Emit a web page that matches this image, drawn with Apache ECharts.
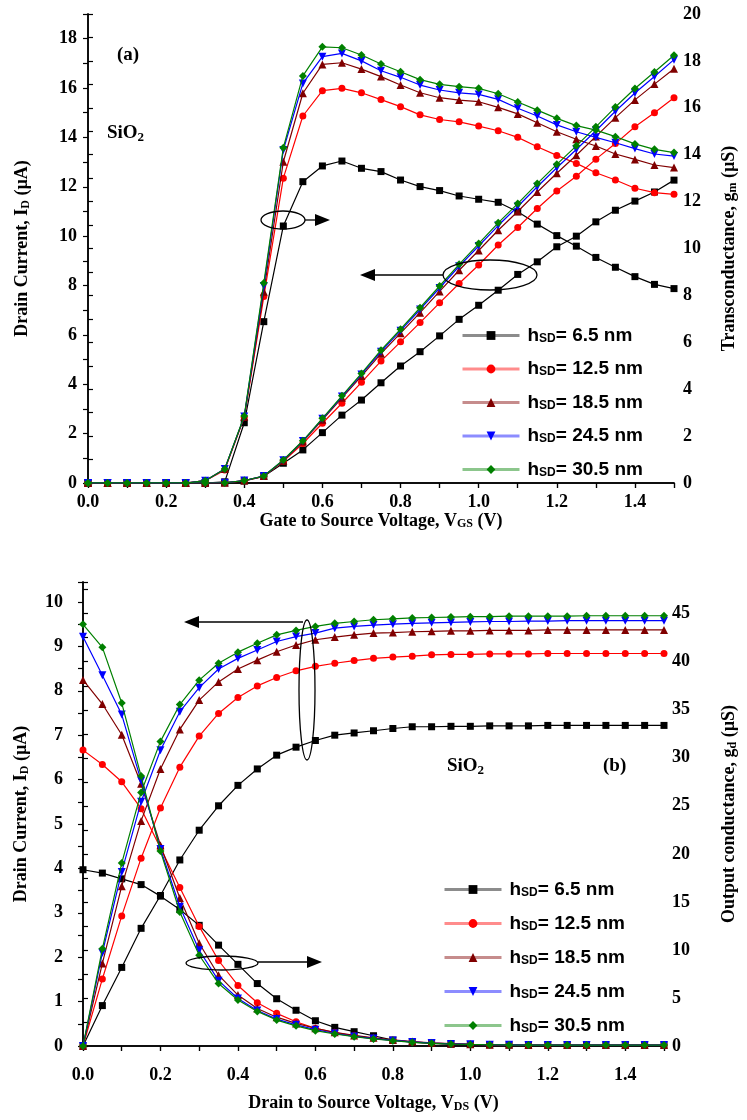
<!DOCTYPE html>
<html>
<head>
<meta charset="utf-8">
<script src="https://cdn.jsdelivr.net/npm/echarts@6.0.0/dist/echarts.min.js"></script>
<style>
html, body { margin: 0; padding: 0; background: #fff; }
#chart { width: 747px; height: 1120px; }
</style>
</head>
<body>
<div id="chart"></div>
<script>
// voltage steps (same for both panels)
const volts = [0.00,0.05,0.10,0.15,0.20,0.25,0.30,0.35,0.40,0.45,0.50,0.55,0.60,0.65,0.70,0.75,
               0.80,0.85,0.90,0.95,1.00,1.05,1.10,1.15,1.20,1.25,1.30,1.35,1.40,1.45,1.50];

const thickness = ['6.5 nm', '12.5 nm', '18.5 nm', '24.5 nm', '30.5 nm'];

// (a) drain current vs VGS (uA)
const idA65  = [0,0,0,0,0,0,0,0.01,0.08,0.27,0.80,1.34,2.04,2.75,3.36,4.06,4.74,5.32,5.96,6.63,7.20,7.81,8.45,8.96,9.57,10.00,10.58,11.05,11.42,11.79,12.27];
const idA125 = [0,0,0,0,0,0,0,0.01,0.09,0.27,0.88,1.60,2.42,3.23,4.08,4.94,5.72,6.50,7.30,8.08,8.83,9.64,10.35,11.12,11.83,12.43,13.12,13.75,14.43,15.00,15.61];
const idA185 = [0,0,0,0,0,0,0,0.01,0.10,0.28,0.90,1.68,2.56,3.45,4.33,5.24,6.07,6.90,7.76,8.62,9.42,10.24,11.00,11.79,12.55,13.28,14.04,14.80,15.52,16.16,16.78];
const idA245 = [0,0,0,0,0,0,0,0.01,0.10,0.28,0.92,1.70,2.60,3.50,4.40,5.32,6.17,7.03,7.90,8.78,9.60,10.43,11.20,12.00,12.77,13.51,14.27,15.06,15.80,16.47,17.15];
const idA305 = [0,0,0,0,0,0,0,0.01,0.10,0.28,0.93,1.71,2.62,3.53,4.44,5.38,6.23,7.10,7.98,8.86,9.70,10.54,11.32,12.13,12.91,13.66,14.43,15.23,15.98,16.65,17.33];

// (a) transconductance vs VGS (uS)
const gmA65  = [0,0,0,0,0,0,0,0.05,2.57,6.88,10.96,12.85,13.52,13.73,13.42,13.28,12.92,12.64,12.47,12.24,12.10,11.97,11.57,11.04,10.55,10.10,9.62,9.20,8.80,8.47,8.29];
const gmA125 = [0,0,0,0,0,0,0.10,0.55,2.80,7.95,13.00,15.65,16.73,16.83,16.64,16.35,16.05,15.70,15.50,15.40,15.22,15.02,14.74,14.34,13.97,13.63,13.23,12.92,12.57,12.38,12.31];
const gmA185 = [0,0,0,0,0,0,0.10,0.60,2.82,8.16,13.70,16.62,17.85,17.92,17.65,17.33,16.97,16.64,16.43,16.33,16.26,16.02,15.74,15.36,14.98,14.66,14.37,14.03,13.80,13.56,13.45];
const gmA245 = [0,0,0,0,0,0,0.10,0.60,2.84,8.40,14.20,17.04,18.18,18.32,18.00,17.58,17.30,16.97,16.76,16.64,16.57,16.36,15.98,15.65,15.27,14.98,14.74,14.51,14.26,14.03,13.94];
const gmA305 = [0,0,0,0,0,0,0.10,0.60,2.86,8.53,14.30,17.36,18.60,18.56,18.25,17.87,17.54,17.20,17.00,16.90,16.83,16.60,16.25,15.90,15.55,15.24,15.05,14.77,14.46,14.23,14.09];

// (b) drain current vs VDS (uA)
const idB65  = [0,0.91,1.77,2.65,3.39,4.19,4.86,5.41,5.87,6.24,6.55,6.73,6.88,7.00,7.05,7.10,7.15,7.19,7.19,7.20,7.20,7.21,7.21,7.21,7.22,7.22,7.22,7.22,7.22,7.22,7.22];
const idB125 = [0,1.51,2.93,4.23,5.36,6.28,6.98,7.49,7.85,8.11,8.30,8.45,8.55,8.62,8.68,8.73,8.76,8.78,8.81,8.82,8.82,8.83,8.83,8.83,8.84,8.84,8.84,8.84,8.84,8.84,8.84];
const idB185 = [0,1.86,3.60,5.07,6.24,7.13,7.79,8.20,8.49,8.69,8.88,9.03,9.15,9.21,9.26,9.30,9.31,9.33,9.34,9.35,9.35,9.36,9.36,9.36,9.37,9.37,9.37,9.37,9.37,9.37,9.37];
const idB245 = [0,2.10,3.92,5.50,6.66,7.53,8.07,8.49,8.73,8.92,9.11,9.22,9.30,9.41,9.45,9.48,9.50,9.52,9.53,9.54,9.55,9.56,9.56,9.57,9.57,9.58,9.58,9.58,9.58,9.58,9.58];
const idB305 = [0,2.19,4.12,5.71,6.86,7.69,8.24,8.62,8.87,9.07,9.26,9.36,9.45,9.52,9.56,9.60,9.62,9.64,9.65,9.66,9.67,9.67,9.68,9.68,9.68,9.68,9.69,9.69,9.69,9.69,9.69];

// (b) output conductance vs VDS (uS)
const gdB65  = [18.35,18.00,17.40,16.80,15.60,14.20,12.56,10.50,8.50,6.50,4.92,3.72,2.63,1.94,1.49,1.07,0.62,0.40,0.28,0.20,0.16,0.13,0.11,0.10,0.10,0.10,0.10,0.10,0.10,0.10,0.10];
const gdB125 = [30.80,29.30,27.50,24.70,20.60,16.50,12.45,8.90,6.30,4.50,3.40,2.52,1.84,1.40,1.06,0.80,0.60,0.42,0.30,0.22,0.17,0.14,0.12,0.10,0.10,0.10,0.10,0.10,0.10,0.10,0.10];
const gdB185 = [38.10,35.60,32.40,27.30,20.90,15.40,10.70,7.37,5.30,3.90,3.00,2.35,1.85,1.42,1.10,0.85,0.63,0.46,0.33,0.24,0.18,0.14,0.12,0.10,0.10,0.10,0.10,0.10,0.10,0.10,0.10];
const gdB245 = [42.60,38.60,34.50,27.60,20.50,14.50,9.97,6.80,4.95,3.70,2.80,2.20,1.70,1.30,1.00,0.77,0.58,0.42,0.30,0.22,0.17,0.14,0.12,0.10,0.10,0.10,0.10,0.10,0.10,0.10,0.10];
const gdB305 = [43.90,41.50,35.70,28.10,20.30,13.95,9.45,6.50,4.78,3.60,2.70,2.10,1.60,1.25,0.97,0.73,0.55,0.38,0.28,0.20,0.16,0.13,0.11,0.10,0.10,0.10,0.10,0.10,0.10,0.10,0.10];

const colors  = ['#000000', '#ff0000', '#800000', '#0000ff', '#008000'];
const symbols = ['rect', 'circle', 'triangle', 'path://M0,0L10,0L5,9Z', 'diamond'];
const symSize = [7, 7, 8, 8, 8];

const SERIF = '"Liberation Serif", "DejaVu Serif", serif';
const SANS = '"Liberation Sans", Arial, sans-serif';

const chart = echarts.init(document.getElementById('chart'));

const pairs = (ys) => volts.map((v, i) => [v, ys[i]]);

function makeSeries(ys, k, xi, yi) {
    return {
        name: thickness[k],
        type: 'line',
        xAxisIndex: xi,
        yAxisIndex: yi,
        data: pairs(ys),
        symbol: symbols[k],
        symbolSize: symSize[k],
        color: colors[k],
        lineStyle: { width: 1.2, color: colors[k] },
        itemStyle: { color: colors[k] },
        animation: false,
        z: 2 + k
    };
}

const idA = [idA65, idA125, idA185, idA245, idA305];
const gmA = [gmA65, gmA125, gmA185, gmA245, gmA305];
const idB = [idB65, idB125, idB185, idB245, idB305];
const gdB = [gdB65, gdB125, gdB185, gdB245, gdB305];

const series = [];
for (let k = 0; k < 5; k++) {
    series.push(makeSeries(idA[k], k, 0, 0));
    series.push(makeSeries(gmA[k], k, 0, 1));
    series.push(makeSeries(idB[k], k, 2, 2));
    series.push(makeSeries(gdB[k], k, 2, 3));
}

const nameRich = {
    b: { fontFamily: SERIF, fontWeight: 'bold', fontSize: 18, color: '#000' },
    s: { fontFamily: SERIF, fontWeight: 'bold', fontSize: 12, color: '#000', padding: [7, 0, 0, 0] }
};

const axisLine = { show: true, lineStyle: { color: '#000', width: 1.5 } };

function xAxisBottom(grid, margin, title, gap) {
    return {
        type: 'value', gridIndex: grid, position: 'bottom',
        min: 0, max: 1.5, interval: 0.1,
        axisLine: axisLine,
        axisTick: { show: true, inside: false, length: 5, lineStyle: { color: '#000', width: 1.2 } },
        axisLabel: {
            margin: margin, fontFamily: SERIF, fontWeight: 'bold', fontSize: 18, color: '#000',
            formatter: (v) => (Math.round(v * 10) % 2 === 0 && v < 1.45) ? v.toFixed(1) : ''
        },
        splitLine: { show: false },
        name: title, nameLocation: 'middle', nameGap: gap,
        nameTextStyle: { rich: nameRich }
    };
}

function xAxisTop(grid) {
    return {
        type: 'value', gridIndex: grid, position: 'top',
        min: 0, max: 1.5, interval: 0.1,
        axisLine: axisLine,
        axisTick: { show: true, inside: true, length: 5, lineStyle: { color: '#000', width: 1.2 } },
        axisLabel: { show: false },
        splitLine: { show: false }
    };
}

function yAxis(grid, pos, max, step, every, margin, title, gap) {
    return {
        type: 'value', gridIndex: grid, position: pos,
        min: 0, max: max, interval: step,
        axisLine: axisLine,
        axisTick: { show: true, inside: false, length: 5, lineStyle: { color: '#000', width: 1.2 } },
        axisLabel: {
            margin: margin, fontFamily: SERIF, fontWeight: 'bold', fontSize: 18, color: '#000',
            formatter: (v) => {
                const r = Math.round(v / every * 1000) / 1000;
                return Number.isInteger(r) ? String(Math.round(v)) : '';
            }
        },
        splitLine: { show: false },
        name: title, nameLocation: 'middle', nameGap: gap, nameRotate: 90,
        nameTextStyle: { rich: nameRich }
    };
}

function arrow(x1, y1, x2, y2) {
    const dir = Math.sign(x2 - x1);
    return [
        { type: 'line', shape: { x1: x1, y1: y1, x2: x2 - dir * 12, y2: y2 },
          style: { stroke: '#000', lineWidth: 1.3 }, z: 100 },
        { type: 'polygon', shape: { points: [[x2, y2], [x2 - dir * 15, y2 - 6], [x2 - dir * 15, y2 + 6]] },
          style: { fill: '#000' }, z: 100 }
    ];
}

function oval(cx, cy, rx, ry) {
    return { type: 'ellipse', shape: { cx: cx, cy: cy, rx: rx, ry: ry },
             style: { stroke: '#000', fill: null, lineWidth: 1.3 }, z: 100 };
}

const labelRich = {
    t: { fontFamily: SERIF, fontWeight: 'bold', fontSize: 19, fill: '#000' },
    u: { fontFamily: SERIF, fontWeight: 'bold', fontSize: 13, fill: '#000', padding: [8, 0, 0, 0] }
};

function legendBox(left, top, gap) {
    return {
        data: thickness, orient: 'vertical', left: left, top: top,
        itemWidth: 57, itemHeight: 11, itemGap: gap,
        lineStyle: { width: 3, opacity: 0.45 },
        formatter: (n) => '{n|h}{s|SD}{n|= ' + n + '}',
        textStyle: {
            padding: [0, 0, 0, 3],
            rich: {
                n: { fontFamily: SANS, fontWeight: 'bold', fontSize: 19, color: '#000' },
                s: { fontFamily: SANS, fontWeight: 'bold', fontSize: 12, color: '#000', padding: [6, 0, 0, 0] }
            }
        },
        selectedMode: false
    };
}

const option = {
    backgroundColor: '#fff',
    animation: false,
    grid: [
        { left: 88, right: 69, top: 14, height: 469 },
        { left: 83, right: 81, top: 582, height: 464 }
    ],
    xAxis: [
        xAxisBottom(0, 10, '{b|Gate to Source Voltage, V}{s|GS}{b| (V)}', 24),
        xAxisTop(0),
        xAxisBottom(1, 20, '{b|Drain to Source Voltage, V}{s|DS}{b| (V)}', 48),
        xAxisTop(1)
    ],
    yAxis: [
        yAxis(0, 'left', 19, 1, 2, 11, '{b|Drain Current, I}{s|D}{b| (µA)}', 56),
        yAxis(0, 'right', 20, 1, 2, 9, '{b|Transconductance, g}{s|m}{b| (µS)}', 46),
        yAxis(1, 'left', 10.45, 0.5, 1, 20, '{b|Drain Current, I}{s|D}{b| (µA)}', 52),
        yAxis(1, 'right', 48.3, 2.5, 5, 8, '{b|Output conductance, g}{s|d}{b| (µS)}', 56)
    ],
    legend: [
        legendBox(456, 321, 14.5),
        legendBox(438, 875, 15)
    ],
    graphic: [
        { type: 'text', left: 117, top: 46, z: 100,
          style: { text: '(a)', fontFamily: SERIF, fontWeight: 'bold', fontSize: 19, fill: '#000' } },
        { type: 'text', left: 107, top: 124, z: 100,
          style: { text: '{t|SiO}{u|2}', rich: labelRich } },
        { type: 'text', left: 447, top: 757, z: 100,
          style: { text: '{t|SiO}{u|2}', rich: labelRich } },
        { type: 'text', left: 603, top: 757, z: 100,
          style: { text: '(b)', fontFamily: SERIF, fontWeight: 'bold', fontSize: 19, fill: '#000' } },
        oval(283, 220, 22, 9),
        ...arrow(305, 220, 330, 220),
        oval(490, 275, 47, 15),
        ...arrow(443, 275, 360, 275),
        oval(307, 690, 8, 70),
        ...arrow(303, 622, 184, 622),
        oval(222, 963, 36, 7),
        ...arrow(258, 962, 322, 962)
    ],
    series: series
};

chart.setOption(option);
</script>
</body>
</html>
